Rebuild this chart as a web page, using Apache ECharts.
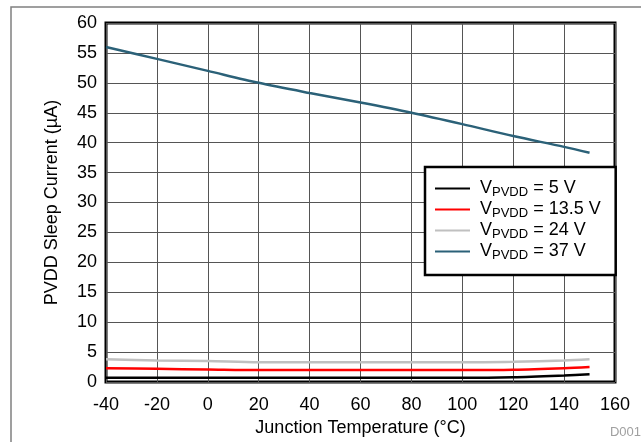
<!DOCTYPE html>
<html><head><meta charset="utf-8">
<script src="https://cdn.jsdelivr.net/npm/echarts@6/dist/echarts.min.js"></script>
<style>html,body{margin:0;padding:0;background:#fff}#c{width:641px;height:442px}</style>
</head><body><div id="c"></div>
<script>
const temps = [-40,-20,0,20,40,60,80,100,120,140,150];
const v5   = [0.7,0.7,0.7,0.7,0.7,0.7,0.7,0.7,0.8,1.1,1.3];
const v135 = [2.3,2.2,2.1,2.0,2.0,2.0,2.0,2.0,2.05,2.3,2.5];
const v24  = [3.8,3.6,3.5,3.3,3.3,3.3,3.3,3.3,3.4,3.6,3.8];
const v37  = [56,54,52,50,48.3,46.7,45,43.1,41.1,39.3,38.3];
const seriesNames = ['5 V','13.5 V','24 V','37 V'];
const seriesColors = ['#000000','#ff0000','#c0c0c0','#2b6178'];
const xTicks = {min:-40,max:160,interval:20};
const yTicks = {min:0,max:60,interval:5};

const font = 'Liberation Sans, Arial, Helvetica, sans-serif';
const allData = [v5,v135,v24,v37];
const chart = echarts.init(document.getElementById('c'));
chart.setOption({
  animation:false,
  backgroundColor:'#fff',
  textStyle:{fontFamily:font},
  graphic:[
    {type:'rect',left:8.5,top:4.5,shape:{width:700,height:500},style:{fill:'none',stroke:'#808080',lineWidth:1.5},z:-1},
    {type:'text',right:0,bottom:3,style:{text:'D001',fill:'#a0a0a0',fontSize:13,fontFamily:font}}
  ],
  grid:{left:106,right:26,top:23,bottom:60,show:true,borderColor:'#000',borderWidth:3,backgroundColor:'#fff'},
  xAxis:{type:'value',min:xTicks.min,max:xTicks.max,interval:xTicks.interval,
    name:'Junction Temperature (°C)',nameLocation:'middle',nameGap:35,
    nameTextStyle:{color:'#000',fontSize:18,fontFamily:font},
    axisLine:{show:false},axisTick:{show:false},
    axisLabel:{color:'#000',fontSize:18,margin:14,fontFamily:font},
    splitLine:{show:true,lineStyle:{color:'#555',width:1}}},
  yAxis:{type:'value',min:yTicks.min,max:yTicks.max,interval:yTicks.interval,
    name:'PVDD Sleep Current (µA)',nameLocation:'middle',nameGap:45,
    nameTextStyle:{color:'#000',fontSize:18,fontFamily:font},
    axisLine:{show:false},axisTick:{show:false},
    axisLabel:{color:'#000',fontSize:18,margin:9,fontFamily:font},
    splitLine:{show:true,lineStyle:{color:'#555',width:1}}},
  legend:{
    orient:'vertical',left:425,top:167,
    backgroundColor:'#fff',borderColor:'#000',borderWidth:2.5,
    padding:[11,15,13,10],itemGap:0,itemWidth:35,itemHeight:21,
    icon:'path://M0,9.5 L35,9.5 L35,11.5 L0,11.5 Z',
    data:seriesNames.map((n,i)=>({name:n,itemStyle:{color:seriesColors[i]}})),
    formatter:n=>'{v|V}{s|PVDD}{v| = '+n+'}',
    textStyle:{rich:{
      v:{fontSize:18,color:'#000',fontFamily:font,lineHeight:21},
      s:{fontSize:13,color:'#000',fontFamily:font,padding:[8,0,0,0],lineHeight:21}
    },padding:[0,0,0,5]}
  },
  series:seriesNames.map((n,i)=>({
    name:n,type:'line',showSymbol:false,symbol:'none',smooth:0.3,
    data:temps.map((t,j)=>[t,allData[i][j]]),
    lineStyle:{color:seriesColors[i],width:2.5},itemStyle:{color:seriesColors[i]}
  }))
});
</script></body></html>
